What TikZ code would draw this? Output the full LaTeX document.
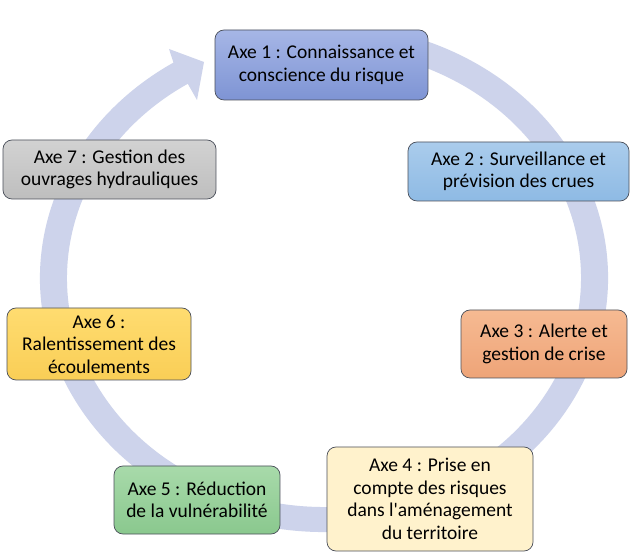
\documentclass[tikz,border=0pt]{standalone}
\usepackage{fontspec}
\usetikzlibrary{calc}
\setmainfont{Carlito}[Ligatures=TeXOff]
\definecolor{ringc}{HTML}{CDD3EB}
\definecolor{bordc}{HTML}{4A4F5A}
\tikzset{
  axe/.style={draw=bordc, line width=0.7pt, rounded corners=9pt, align=center,
    inner sep=0pt, text=black, font=\fontsize{19.5}{22.5}\selectfont},
}
\begin{document}
\begin{tikzpicture}[x=1pt,y=1pt]
\useasboundingbox (0,0) rectangle (631,559);
\fill[white] (0,0) rectangle (631,559);
% ring arrow
\fill[ringc] (324,281) ++(74:284 and 254)
  arc[start angle=74, end angle=-238, x radius=284, y radius=254]
  -- (169,510) -- (204,497) -- (197,459)
  -- ($(324,281)+(122:257 and 229)$)
  arc[start angle=122, end angle=434, x radius=257, y radius=229] -- cycle;
% boxes
\node[axe, minimum width=213pt, minimum height=70pt, top color={rgb,255:red,166;green,182;blue,230}, bottom color={rgb,255:red,126;green,148;blue,212}] (a1) at (321.5,494) {Axe 1 : Connaissance et\\conscience du risque};
\node[axe, minimum width=221pt, minimum height=59pt, top color={rgb,255:red,170;green,204;blue,236}, bottom color={rgb,255:red,142;green,186;blue,228}] (a2) at (518.5,387.5) {Axe 2 : Surveillance et\\prévision des crues};
\node[axe, minimum width=166pt, minimum height=68pt, top color={rgb,255:red,246;green,186;blue,146}, bottom color={rgb,255:red,238;green,164;blue,120}] (a3) at (544,215) {Axe 3 : Alerte et\\gestion de crise};
\node[axe, minimum width=206pt, minimum height=104pt, fill={rgb,255:red,255;green,242;blue,204}] (a4) at (430,60) {Axe 4 : Prise en\\compte des risques\\dans l'aménagement\\du territoire};
\node[axe, minimum width=166pt, minimum height=68pt, top color={rgb,255:red,168;green,218;blue,170}, bottom color={rgb,255:red,138;green,200;blue,142}] (a5) at (197,59) {Axe 5 : Réduction\\de la vulnérabilité};
\node[axe, minimum width=184pt, minimum height=72pt, top color={rgb,255:red,255;green,220;blue,112}, bottom color={rgb,255:red,249;green,206;blue,86}] (a6) at (99,215) {Axe 6 :\\Ralentissement des\\écoulements};
\node[axe, minimum width=213pt, minimum height=59pt, top color={rgb,255:red,210;green,210;blue,210}, bottom color={rgb,255:red,190;green,190;blue,190}] (a7) at (109.5,389.5) {Axe 7 : Gestion des\\ouvrages hydrauliques};
\end{tikzpicture}
\end{document}
